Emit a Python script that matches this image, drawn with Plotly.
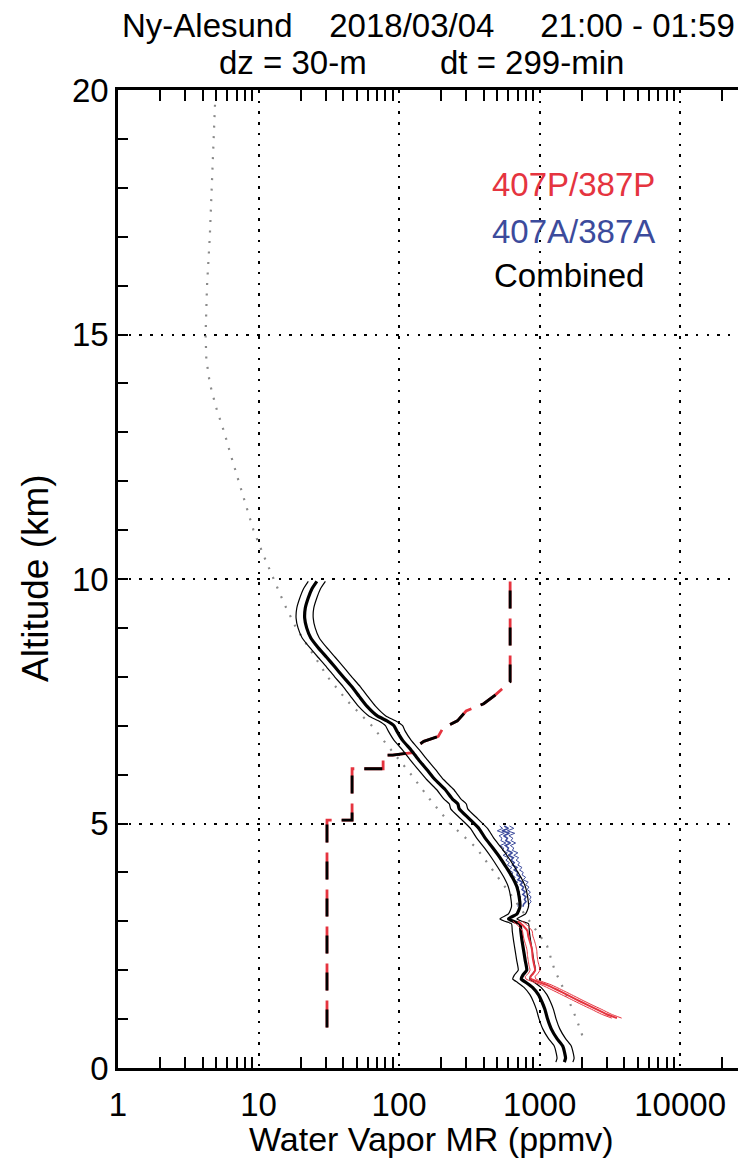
import plotly.graph_objects as go

# ---------------- data ----------------
# Combined retrieval (thick black) with its error bounds (thin black)
alt_comb = [9.95, 9.8, 9.6, 9.4, 9.2, 9.0, 8.8, 8.6, 8.4, 8.2, 8.0, 7.8, 7.6, 7.4, 7.2, 7.1, 7.0, 6.9, 6.7, 6.5,
            6.3, 6.1, 5.9, 5.7, 5.5, 5.4, 5.3, 5.1, 4.9, 4.7, 4.5, 4.3, 4.1, 3.9, 3.7, 3.5, 3.3, 3.15, 3.05, 3.0,
            2.95, 2.8, 2.6, 2.4, 2.2, 2.0, 1.9, 1.82, 1.75, 1.65, 1.5, 1.35, 1.2, 1.0, 0.8, 0.6, 0.45, 0.3, 0.2, 0.12]
comb = [26, 24, 22.5, 21.5, 21.3, 22, 23.5, 26.5, 30.5, 35, 40, 46, 52, 59, 70, 82, 92, 96, 106, 122,
        138, 158, 180, 212, 240, 262, 268, 315, 370, 410, 465, 523, 580, 640, 690, 715, 725, 690, 600, 650,
        725, 735, 750, 770, 790, 810, 760, 740, 800, 890, 980, 1040, 1090, 1140, 1210, 1330, 1460, 1510, 1530, 1500]
comb_lo = [22.6, 20.9, 19.6, 18.7, 18.5, 19.1, 20.4, 23.1, 26.5, 30.5, 34.8, 40, 45.2, 51.3, 60.9, 71.3, 80, 83.5, 92.2, 106,
           120, 137, 157, 184, 209, 228, 233, 274, 322, 357, 405, 455, 505, 557, 600, 622, 631, 600, 522, 566,
           631, 639, 653, 670, 687, 705, 661, 644, 696, 774, 853, 905, 948, 992, 1053, 1157, 1270, 1314, 1331, 1305]
comb_hi = [29.9, 27.6, 25.9, 24.7, 24.5, 25.3, 27, 30.5, 35.1, 40.3, 46, 52.9, 59.8, 67.9, 80.5, 94.3, 106, 110, 122, 140,
           159, 182, 207, 244, 276, 301, 308, 362, 426, 472, 535, 601, 667, 736, 794, 822, 834, 794, 690, 748,
           834, 845, 863, 886, 909, 932, 874, 851, 920, 1024, 1127, 1196, 1254, 1311, 1392, 1530, 1679, 1737, 1760, 1725]

# 407A/387A (blue)
alt_blue = [4.95, 4.9, 4.85, 4.8, 4.75, 4.7, 4.65, 4.6, 4.55, 4.5, 4.45, 4.4, 4.35, 4.3, 4.25, 4.2, 4.15,
            4.1, 4.05, 4.0, 3.95, 3.9, 3.85, 3.8, 3.75, 3.7, 3.65, 3.6, 3.55, 3.5, 3.45, 3.4, 3.35, 3.3]
blue = [560, 600, 540, 610, 555, 590, 575, 620, 570, 600, 590, 640, 600, 650, 625, 660, 640,
        690, 660, 700, 690, 730, 700, 760, 730, 770, 750, 790, 760, 800, 780, 800, 770, 760]
blue_lo = [520, 545, 500, 560, 515, 540, 530, 575, 525, 555, 545, 590, 550, 600, 575, 610, 590,
           635, 605, 645, 635, 670, 645, 700, 670, 710, 690, 725, 700, 735, 715, 735, 705, 700]
blue_hi = [610, 655, 590, 665, 605, 645, 625, 675, 620, 655, 640, 700, 655, 710, 680, 720, 700,
           750, 720, 765, 750, 795, 765, 830, 795, 840, 815, 860, 830, 870, 850, 870, 840, 830]

# 407P/387P (red)
alt_red = [3.0, 2.9, 2.8, 2.7, 2.6, 2.5, 2.4, 2.3, 2.2, 2.1, 2.0, 1.93, 1.87, 1.82, 1.77, 1.7,
           1.6, 1.5, 1.4, 1.3, 1.2, 1.1, 1.02]
red = [700, 770, 820, 830, 850, 870, 885, 890, 900, 915, 930, 900, 860, 870, 960, 1120,
       1330, 1560, 1830, 2150, 2550, 3000, 3550]
red_lo = [645, 710, 755, 765, 780, 800, 815, 820, 830, 840, 855, 830, 790, 800, 880, 1030,
          1220, 1435, 1685, 1980, 2345, 2760, 3265]
red_hi = [755, 830, 885, 895, 920, 940, 955, 960, 970, 990, 1005, 970, 930, 940, 1035, 1210,
          1435, 1685, 1975, 2320, 2755, 3240, 3835]

# Reference profile (grey dotted)
alt_mod = [19.7, 19.0, 18.0, 17.0, 16.0, 15.0, 14.5, 14.0, 13.5, 13.0, 12.5, 12.0, 11.5, 11.0, 10.5,
           10.0, 9.5, 9.0, 8.5, 8.0, 7.5, 7.0, 6.5, 6.0, 5.5, 5.0, 4.5, 4.0, 3.5, 3.0, 2.5, 2.0, 1.5, 1.0, 0.6]
mod = [4.9, 4.8, 4.65, 4.5, 4.3, 4.2, 4.25, 4.5, 5.0, 5.7, 6.4, 7.2, 8.1, 9.2, 10.8,
       12.8, 15.2, 18.5, 24, 31, 43, 64, 88, 122, 165, 230, 355, 480, 640, 850, 1130, 1280, 1550, 1830, 2050]

# Stepped dashed profile (red/black dashed)
step_alt = [9.95, 7.9, 7.75, 7.62, 7.45, 7.3, 7.1, 6.95, 6.78, 6.68, 6.62, 6.45, 6.4, 6.4, 6.12,
            6.12, 5.07, 5.07, 0.82]
step_val = [617, 617, 540, 480, 400, 300, 260, 205, 190, 150, 140, 125, 90, 77, 77,
            46.3, 46.3, 30.7, 30.7]

x_tickvals = [1, 10, 100, 1000, 10000]
x_ticktext = ["1", "10", "100", "1000", "10000"]
x_minor = [m * d for d in [1, 10, 100, 1000] for m in range(2, 10)] + [20000]
y_tickvals = [0, 5, 10, 15, 20]

title_line1 = "Ny-Alesund" + "\u00a0" * 4 + "2018/03/04" + "\u00a0" * 5 + "21:00 - 01:59"
title_line2 = "dz = 30-m" + "\u00a0" * 8 + "dt = 299-min"
legend_labels = ["407P/387P", "407A/387A", "Combined"]

RED = "#e5343f"
BLUE = "#3c4b9c"
FONT = "Liberation Sans"

fig = go.Figure()

# grey dotted reference profile
fig.add_trace(go.Scatter(x=mod, y=alt_mod, mode="lines",
                         line=dict(color="#8a8a8a", width=2.2, dash="2px,8.5px"), hoverinfo="skip"))

# stepped dashed profile: red underneath, black on top (offset dash)
fig.add_trace(go.Scatter(x=step_val, y=step_alt, mode="lines",
                         line=dict(color=RED, width=2.8, dash="27px,10px"), hoverinfo="skip"))
fig.add_trace(go.Scatter(x=step_val, y=step_alt, mode="lines",
                         line=dict(color="black", width=2.8, dash="0px,9px,18px,10px"), hoverinfo="skip"))

# blue
for arr, w in [(blue_lo, 1), (blue_hi, 1), (blue, 1.6)]:
    fig.add_trace(go.Scatter(x=arr, y=alt_blue, mode="lines",
                             line=dict(color=BLUE, width=w), hoverinfo="skip"))

# combined black
for arr, w in [(comb_lo, 1.2), (comb_hi, 1.2), (comb, 3.2)]:
    fig.add_trace(go.Scatter(x=arr, y=alt_comb, mode="lines",
                             line=dict(color="black", width=w, shape="spline", smoothing=0.5), hoverinfo="skip"))

# red
for arr, w in [(red_lo, 1), (red_hi, 1), (red, 2)]:
    fig.add_trace(go.Scatter(x=arr, y=alt_red, mode="lines",
                             line=dict(color=RED, width=w, shape="spline", smoothing=0.5), hoverinfo="skip"))

# dummy trace for right-side tick axis
fig.add_trace(go.Scatter(x=[1], y=[0], mode="markers", marker=dict(opacity=0), yaxis="y2",
                         hoverinfo="skip"))

grid = dict(showgrid=True, gridcolor="black", gridwidth=2.2, griddash="2.5px,8.2px")

# the page body adds an 8px offset, so the figure is sized to land on the reference frame
fig.update_layout(
    width=741, height=1154,
    margin=dict(l=110, r=0, t=82, b=94),
    paper_bgcolor="white", plot_bgcolor="white",
    showlegend=False,
    font=dict(family=FONT, size=33, color="black"),
    xaxis=dict(type="log", range=[0, 4.49], tickvals=x_tickvals, ticktext=x_ticktext,
               showline=True, linecolor="black", linewidth=2.5, mirror="ticks",
               ticks="inside", ticklen=0, tickwidth=2, tickcolor="black",
               minor=dict(tickvals=x_minor, ticks="inside", ticklen=11, tickwidth=2,
                          tickcolor="black", showgrid=False),
               tickfont=dict(size=33), ticklabelstandoff=6, zeroline=False, **grid),
    yaxis=dict(range=[0, 20], tickvals=y_tickvals,
               showline=True, linecolor="black", linewidth=2.5,
               ticks="inside", ticklen=10, tickwidth=2, tickcolor="black",
               minor=dict(dtick=1, ticks="inside", ticklen=10, tickwidth=2, tickcolor="black", showgrid=False),
               tickfont=dict(size=33), ticklabelstandoff=0, zeroline=False, **grid),
    yaxis2=dict(range=[0, 20], overlaying="y", side="right", showline=False, showgrid=False,
                tickvals=y_tickvals, ticks="inside", ticklen=11, tickwidth=2, tickcolor="black",
                showticklabels=False, zeroline=False,
                minor=dict(dtick=1, ticks="inside", ticklen=11, tickwidth=2, tickcolor="black", showgrid=False)),
)

# paper coords: plot spans x 118..749 px, y 90..1068 px in the page
ann = [
    dict(text=title_line1, x=(428 - 118) / 631, y=(1068 - 25) / 978, font=dict(size=33)),
    dict(text=title_line2, x=(421 - 118) / 631, y=(1068 - 63) / 978, font=dict(size=33)),
    dict(text="Water Vapor MR (ppmv)", x=(431 - 118) / 631, y=(1068 - 1139) / 978, font=dict(size=34)),
    dict(text="Altitude (km)", x=(35 - 118) / 631, y=(1068 - 578) / 978, textangle=-90, font=dict(size=37)),
]
for a in ann:
    fig.add_annotation(xref="paper", yref="paper", showarrow=False, xanchor="center", yanchor="middle",
                       borderpad=0, **a)

for lab, col, xx, yy in zip(legend_labels, [RED, BLUE, "black"], [490, 490, 492], [185, 232, 275]):
    fig.add_annotation(text=lab, xref="paper", yref="paper", x=(xx - 118) / 631, y=(1068 - yy) / 978,
                       showarrow=False, xanchor="left", yanchor="middle", font=dict(size=33, color=col))

fig.write_html("out.html")
